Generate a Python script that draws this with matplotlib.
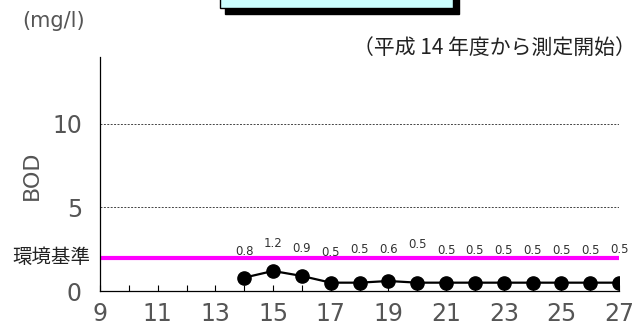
import matplotlib
matplotlib.use("Agg")
import matplotlib.pyplot as plt
from matplotlib.patches import Rectangle

plt.rcParams['font.family'] = ['Noto Sans CJK JP', 'DejaVu Sans']

years = [14, 15, 16, 17, 18, 19, 20, 21, 22, 23, 24, 25, 26, 27]
bod = [0.8, 1.2, 0.9, 0.5, 0.5, 0.6, 0.5, 0.5, 0.5, 0.5, 0.5, 0.5, 0.5, 0.5]
labels = ["0.8", "1.2", "0.9", "0.5", "0.5", "0.6", "0.5", "0.5", "0.5", "0.5", "0.5", "0.5", "0.5", "0.5"]
label_y = [2.34, 2.87, 2.57, 2.28, 2.46, 2.46, 2.81, 2.4, 2.4, 2.4, 2.4, 2.4, 2.4, 2.46]
standard = 2.0
xmin, xmax = 9, 27
xticks = [9, 11, 13, 15, 17, 19, 21, 23, 25, 27]
yticks = [0, 5, 10]

fig = plt.figure(figsize=(6.37, 3.27), dpi=100)
ax = fig.add_axes([0.157, 0.110, 0.815, 0.716])

for y in [5, 10]:
    ax.axhline(y, color='#444444', lw=0.7, ls=(0, (2, 1.5)), zorder=1)
ax.plot([xmin, xmax], [standard, standard], color='#ff00ff', lw=3.0, zorder=2, solid_capstyle='butt')
ax.plot(years, bod, color='black', lw=1.6, marker='o', ms=9.5, zorder=3)
for x, t, ly in zip(years, labels, label_y):
    ax.text(x, ly, t, ha='center', va='center', fontsize=8.5, color='#333333', family='DejaVu Sans')

ax.set_xlim(xmin, xmax)
ax.set_ylim(0, 14)
ax.set_xticks(xticks)
ax.set_xticks(range(xmin, xmax + 1), minor=True)
ax.set_yticks(yticks)
ax.tick_params(axis='x', which='both', direction='in', length=4.5, width=0.8, pad=8)
ax.tick_params(axis='y', which='both', length=0, pad=13)
for lab in ax.get_xticklabels() + ax.get_yticklabels():
    lab.set_family('DejaVu Sans')
    lab.set_fontsize(17)
    lab.set_color('#555555')
for s in ['top', 'right']:
    ax.spines[s].set_visible(False)
for s in ['left', 'bottom']:
    ax.spines[s].set_linewidth(0.9)
fig.text(32 / 637, 1 - 175 / 327, 'BOD', rotation=90, ha='center', va='center', fontsize=16,
         color='#555555', family='DejaVu Sans')
ax.text(-0.019, standard, '環境基準', transform=ax.get_yaxis_transform(), ha='right', va='center',
        fontsize=14, color='#222222')

fig.text(22 / 637, 1 - 21 / 327, '(mg/l)', fontsize=15, color='#555555', va='center', ha='left',
         family='DejaVu Sans')
fig.text(636 / 637, 1 - 48 / 327, '（平成 14 年度から測定開始）', fontsize=15, color='#222222',
         va='center', ha='right')

# title box (cropped at top)
fig.patches.append(Rectangle((225 / 637, 1 - 14 / 327), 234 / 637, 0.1, transform=fig.transFigure,
                             facecolor='black', edgecolor='black'))
fig.patches.append(Rectangle((220 / 637, 1 - 7.5 / 327), 233 / 637, 0.1, transform=fig.transFigure,
                             facecolor='#ccffff', edgecolor='black', lw=1))

fig.savefig('out.png', dpi=100)
